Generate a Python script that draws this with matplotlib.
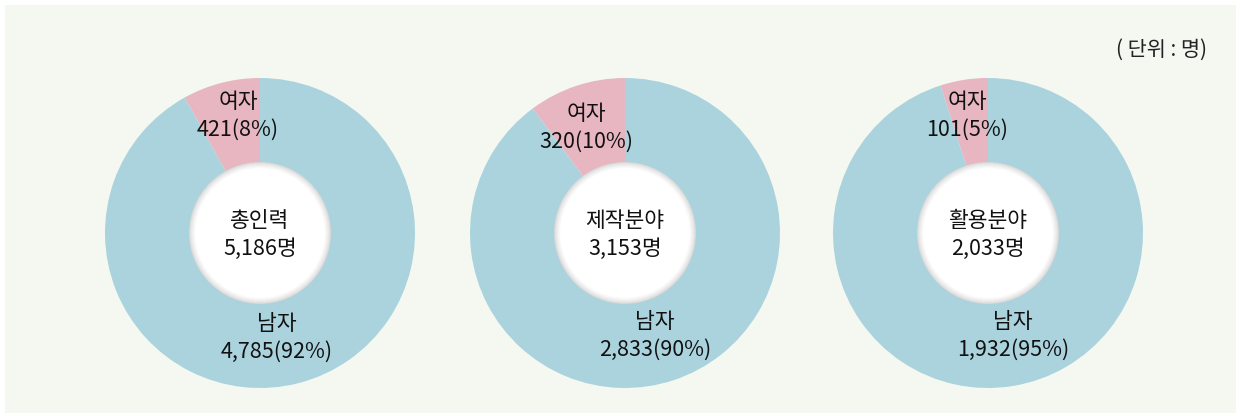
import matplotlib
matplotlib.use('Agg')
import numpy as np
import matplotlib.pyplot as plt
from matplotlib.patches import Circle, Rectangle

plt.rcParams['font.family'] = ['Noto Sans CJK KR', 'DejaVu Sans']

# data
groups = ['총인력', '제작분야', '활용분야']
totals = [5186, 3153, 2033]
female = [421, 320, 101]
male = [4785, 2833, 1932]
female_pct = [8, 10, 5]
male_pct = [92, 90, 95]

W, H = 1240, 416
fig = plt.figure(figsize=(W / 100, H / 100), dpi=100)
fig.patch.set_facecolor('white')
ax = fig.add_axes([0, 0, 1, 1])

pink = '#e7b6c1'
blue = '#aad3dd'
txt = '#111111'
fs = 15.5

ax.add_patch(Rectangle((5, 3), 1231, 408, facecolor='#f5f8f1', edgecolor='none', zorder=0))

centers_x = [260, 625, 988]
cy = H - 233
R = 155
r_in = 70

for i in range(3):
    cx = centers_x[i]
    ax.pie([female[i], male[i]], colors=[pink, blue], startangle=90, counterclock=True,
           center=(cx, cy), radius=R, frame=True,
           wedgeprops=dict(linewidth=0, edgecolor='none'))
    # soft shadow at the edge of the white hole
    steps = 10
    for k in range(steps):
        rr = r_in + 1 - k * 0.7
        g = 0.84 + 0.16 * (k / (steps - 1)) ** 0.7
        ax.add_patch(Circle((cx, cy), rr, facecolor=(g, g, g), edgecolor='none', zorder=3))
    ax.add_patch(Circle((cx, cy), r_in + 1 - steps * 0.7, facecolor='white', edgecolor='none', zorder=3))

    ax.text(cx, H - 221, groups[i], ha='center', va='center', fontsize=fs, color=txt, zorder=5)
    ax.text(cx, H - 249, f'{totals[i]:,}명', ha='center', va='center', fontsize=fs, color=txt, zorder=5)

# segment labels
fem_xy = [(238, 102), (586, 114), (967, 102)]
male_xy = [(277, 324), (655, 322), (1013, 322)]
for i in range(3):
    fx, fy = fem_xy[i]
    ax.text(fx, H - fy, '여자', ha='center', va='center', fontsize=fs, color=txt, zorder=5)
    ax.text(fx, H - fy - 28, f'{female[i]:,}({female_pct[i]}%)', ha='center', va='center',
            fontsize=fs, color=txt, zorder=5)
    mx, my = male_xy[i]
    ax.text(mx, H - my, '남자', ha='center', va='center', fontsize=fs, color=txt, zorder=5)
    ax.text(mx, H - my - 28, f'{male[i]:,}({male_pct[i]}%)', ha='center', va='center',
            fontsize=fs, color=txt, zorder=5)

ax.text(1161, H - 50, '( 단위 : 명)', ha='center', va='center', fontsize=15, color='#222222')

ax.set_xlim(0, W)
ax.set_ylim(0, H)
ax.set_aspect('auto')
ax.axis('off')

plt.savefig('out.png', dpi=100, facecolor=fig.get_facecolor())
